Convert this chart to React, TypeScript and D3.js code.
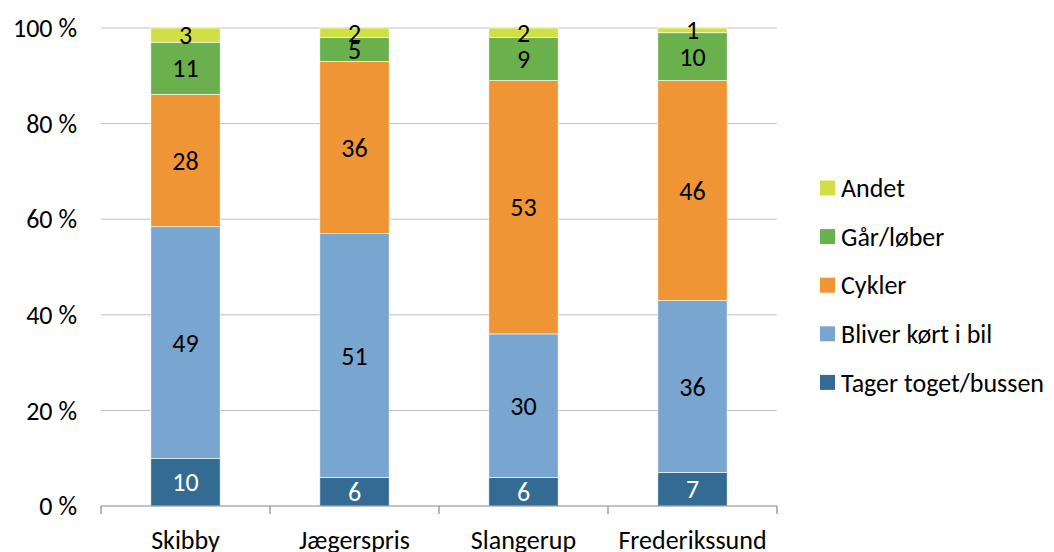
import React from 'react';
import * as d3 from 'd3';

const categories = ['Skibby', 'Jægerspris', 'Slangerup', 'Frederikssund'];
const seriesNames = ['Tager toget/bussen', 'Bliver kørt i bil', 'Cykler', 'Går/løber', 'Andet'];
const tager = [10, 6, 6, 7];
const bliver = [49, 51, 30, 36];
const cykler = [28, 36, 53, 46];
const gaar = [11, 5, 9, 10];
const andet = [3, 2, 2, 1];
const yTicks = [0, 20, 40, 60, 80, 100];

const colors = ['#336b93', '#79a6d0', '#ef9535', '#6ab04c', '#d0df43'];
const labelColors = ['#ffffff', '#000000', '#000000', '#000000', '#000000'];

const W = 1054;
const H = 552;
const left = 101;
const right = 777;
const top = 28;
const bottom = 506;
const fs = 26;
const font = 'Carlito, Lato, "Open Sans", sans-serif';

export default function App() {
  const values = [tager, bliver, cykler, gaar, andet];
  const rows = categories.map((c, i) => {
    const r: any = { cat: c };
    seriesNames.forEach((s, j) => (r[s] = values[j][i]));
    return r;
  });
  // each column is normalised to 100 %
  const stack = d3.stack<any>().keys(seriesNames).offset(d3.stackOffsetExpand)(rows);

  const x = d3.scaleBand().domain(categories).range([left, right]).paddingInner(0.59).paddingOuter(0.295);
  const y = d3.scaleLinear().domain([0, 1]).range([bottom, top]);
  const step = x.step();

  return (
    <svg width={W} height={H} style={{ position: 'absolute', left: 0, top: 0 }} fontFamily={font}>
      <rect width={W} height={H} fill="#fff" />
      {yTicks.map(t => (
        <g key={t}>
          {t > 0 && <line x1={left} x2={right} y1={y(t / 100)} y2={y(t / 100)} stroke="#bfbfbf" strokeWidth={1} />}
          <text x={77} y={y(t / 100)} dy="0.35em" textAnchor="end" fontSize={fs} fill="#000">
            {t} %
          </text>
        </g>
      ))}
      {stack.map((layer, j) => (
        <g key={layer.key}>
          {layer.map((d, i) => {
            const y0 = y(d[0]);
            const y1 = y(d[1]);
            return (
              <g key={i}>
                <rect
                  x={x(categories[i])}
                  width={x.bandwidth()}
                  y={y1}
                  height={y0 - y1}
                  fill={colors[j]}
                  stroke="#fff"
                  strokeWidth={0.6}
                />
                <text
                  x={x(categories[i])! + x.bandwidth() / 2}
                  y={(y0 + y1) / 2}
                  dy="0.35em"
                  textAnchor="middle"
                  fontSize={fs}
                  fill={labelColors[j]}
                >
                  {values[j][i]}
                </text>
              </g>
            );
          })}
        </g>
      ))}
      <line x1={left} x2={right} y1={bottom} y2={bottom} stroke="#878787" strokeWidth={1.2} />
      {d3.range(categories.length + 1).map(i => (
        <line key={i} x1={left + i * step} x2={left + i * step} y1={bottom} y2={bottom + 8} stroke="#878787" strokeWidth={1.2} />
      ))}
      {categories.map(c => (
        <text key={c} x={x(c)! + x.bandwidth() / 2} y={540} dy="0.35em" textAnchor="middle" fontSize={fs} fill="#000">
          {c}
        </text>
      ))}
      {seriesNames
        .slice()
        .reverse()
        .map((s, k) => {
          const j = seriesNames.length - 1 - k;
          const cy = 188 + k * 48.6;
          return (
            <g key={s}>
              <rect x={820} y={cy - 7.5} width={15} height={15} fill={colors[j]} />
              <text x={841} y={cy} dy="0.35em" fontSize={fs} fill="#000">
                {s}
              </text>
            </g>
          );
        })}
    </svg>
  );
}
